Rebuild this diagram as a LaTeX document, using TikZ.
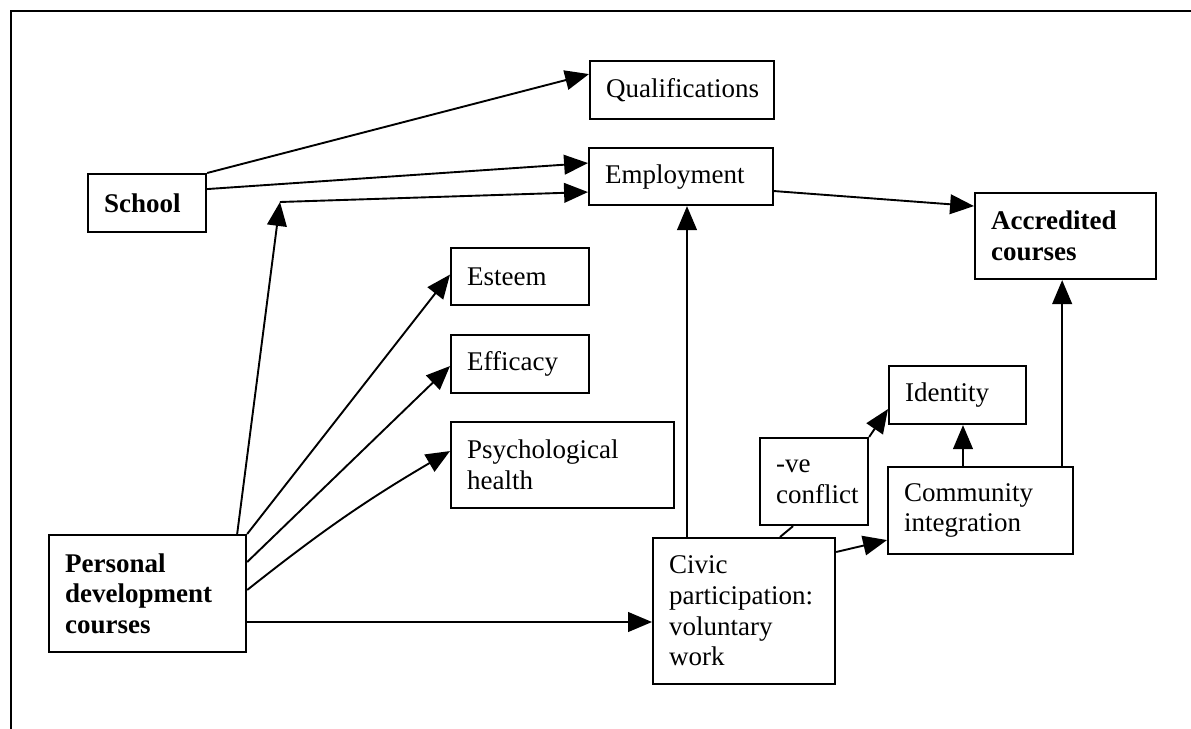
\documentclass[tikz,border=0pt]{standalone}
\usepackage{fontspec}
\setmainfont{Liberation Serif}
\usetikzlibrary{arrows.meta,calc}
\begin{document}
\begin{tikzpicture}[x=0.025cm,y=-0.025cm,
  box/.style={draw,line width=1.5pt,rectangle,align=left,inner xsep=0.4cm,inner ysep=0pt,anchor=north west,font=\fontsize{19.2}{21.8}\selectfont},
  arr/.style={line width=1.35pt,-{Triangle[length=17pt,width=14pt]}},
  ln/.style={line width=1.35pt}]
\useasboundingbox (0,0) rectangle (1191,729);
\draw[line width=1.4pt] (11,729) -- (11,11) -- (1191,11);

\node[box,text width=3.8cm,minimum height=1.45cm] (qual) at (589,60) {Qualifications};
\node[box,text width=3.8cm,minimum height=1.425cm] (emp) at (588,147) {Employment};
\node[box,text width=2.15cm,minimum height=1.45cm] (school) at (87,173) {\textbf{School}};
\node[box,text width=3.725cm,minimum height=2.15cm] (acc) at (974,192) {\textbf{Accredited}\\\textbf{courses}};
\node[box,text width=2.65cm,minimum height=1.425cm] (esteem) at (450,247) {Esteem};
\node[box,text width=2.65cm,minimum height=1.45cm] (efficacy) at (450,334) {Efficacy};
\node[box,text width=4.775cm,minimum height=2.15cm] (psych) at (450,421) {Psychological\\health};
\node[box,text width=2.625cm,minimum height=1.45cm] (identity) at (888,365) {Identity};
\node[box,text width=1.9cm,minimum height=2.175cm] (conflict) at (759,437) {-ve\\conflict};
\node[box,text width=3.825cm,minimum height=2.175cm] (community) at (887,466) {Community\\integration};
\node[box,text width=3.75cm,minimum height=3.65cm] (civic) at (652,537) {Civic\\participation:\\voluntary\\work};
\node[box,text width=4.125cm,minimum height=2.925cm] (personal) at (48,534) {\textbf{Personal}\\\textbf{development}\\\textbf{courses}};

\coordinate (kink) at (280,202);

\draw[arr] (school.north east) -- ($(qual.west)+(0,-16)$);
\draw[arr] ($(school.east)+(0,-14)$) -- ($(emp.west)+(0,-13.5)$);
\draw[arr] ($(personal.north east)+(-10,0)$) -- (kink);
\draw[arr] (kink) -- ($(emp.west)+(0,15.5)$);
\draw[arr] (personal.north east) -- ($(esteem.west)+(0,-2)$);
\draw[arr] ($(personal.north east)+(0,28)$) -- ($(efficacy.west)+(0,2)$);
\draw[arr] ($(personal.north east)+(0,56)$) to[bend left=4] ($(psych.west)+(0,-14)$);
\draw[arr] ($(personal.north east)+(0,88)$) coordinate (pc) -- (pc -| civic.west);
\draw[arr] ($(civic.north west)+(35,0)$) coordinate (cv) -- (cv |- emp.south);
\draw[arr] ($(emp.east)+(0,14.5)$) -- ($(acc.west)+(0,-30)$);
\draw[ln] ($(civic.north west)+(128,0)$) -- ($(conflict.south)+(-21,0)$);
\draw[arr] (conflict.north east) -- ($(identity.west)+(0,14)$);
\draw[arr] ($(civic.north east)+(0,15)$) -- ($(community.west)+(0,29.5)$);
\draw[arr] ($(community.north west)+(76,0)$) coordinate (cq) -- (cq |- identity.south);
\draw[arr] ($(community.north east)+(-12,0)$) coordinate (ca) -- (ca |- acc.south);
\end{tikzpicture}
\end{document}
